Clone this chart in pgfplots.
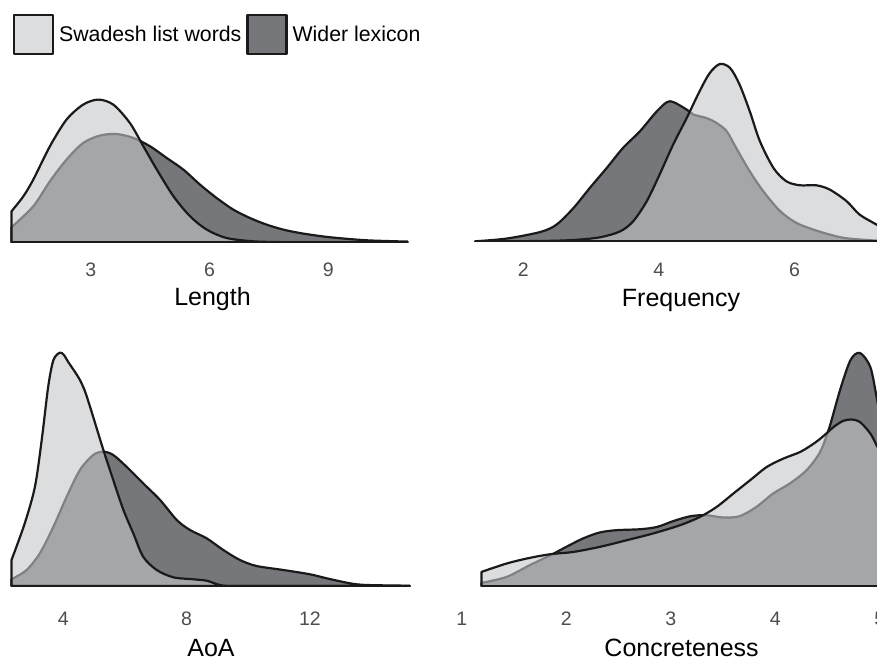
\documentclass[border=0pt]{standalone}
\usepackage{pgfplots}
\pgfplotsset{compat=1.18}
\usepackage{fontspec}
\setmainfont{Liberation Sans}
\definecolor{wd}{RGB}{118,119,123}
\definecolor{sw}{RGB}{197,198,201}
\definecolor{tickgray}{RGB}{77,77,77}
\definecolor{outl}{RGB}{26,26,26}
\pgfplotsset{
  swst/.style={fill=sw, fill opacity=0.6, draw=outl, line width=2.2pt, line join=round},
  wdst/.style={fill=wd, draw=outl, line width=2.2pt, line join=round},
  dens/.style={
    scale only axis, anchor=south west, y=1pt, ymin=0,
    axis line style={draw=none}, ytick=\empty, major tick length=0pt,
    tick style={draw=none},
    /pgf/number format/assume math mode=true,
    tick label style={font=\fontsize{19.5}{21}\selectfont, text=tickgray},
    label style={font=\fontsize{25}{28}\selectfont, text=black},
    legend image code/.code={\draw[##1] (0pt,-19.5pt) rectangle (39pt,19.5pt);},
  },
}
\begin{document}
\begin{tikzpicture}
\useasboundingbox (0,0) rectangle (877pt,659pt);
\clip (0,0) rectangle (877pt,659pt);

% Length
\begin{axis}[dens, at={(1.6pt,416.7pt)}, xmin=0.75, xmax=11.5, x=39.6pt, ymax=240,
  xtick={3,6,9}, xticklabel style={anchor=base, yshift=-34.7pt},
  xlabel={Length}, xlabel style={at={(axis description cs:0.4954,0)}, anchor=base, yshift=-63.7pt},
  legend columns=2,
  legend style={at={(axis description cs:0.0261,0.954)}, anchor=north west, draw=none, fill=none,
    inner sep=0pt, font=\fontsize{21.3}{24}\selectfont,
    /tikz/every odd column/.append style={column sep=3pt},
    /tikz/every even column/.append style={column sep=3pt}}]
\addlegendimage{swst}\addlegendentry{Swadesh list words}
\addlegendimage{wdst}\addlegendentry{Wider lexicon}
\addplot[wdst, smooth, forget plot] coordinates {
(1.0,15) (1.55,36) (1.97,61) (2.39,82.7) (2.81,99.3) (3.23,106.7) (3.65,108.3) (4.08,104.3)
(4.50,96) (4.92,84.3) (5.34,72.7) (5.76,57.7) (6.18,44.3) (6.60,32.7) (7.02,24.3) (7.44,17.7)
(7.86,12.7) (8.28,9.3) (8.71,6.7) (9.13,4.7) (9.97,2) (11.0,0.7)} \closedcycle;
\addplot[swst, smooth, forget plot] coordinates {
(1.0,31) (1.3,46) (1.55,62.7) (1.97,96) (2.39,122.7) (2.81,137.7) (3.19,142.7) (3.57,137.7) (3.99,119.3)
(4.33,96) (4.67,72.7) (5.09,46) (5.51,26) (5.93,12.7) (6.43,4.3) (7.1,1) (7.8,0.2) (9.0,0) (11.0,0)} \closedcycle;
\end{axis}

% Frequency
\begin{axis}[dens, at={(469.06pt,417.7pt)}, xmin=1.2, xmax=7.5, x=67.8pt, ymax=200,
  xtick={2,4,6}, xticklabel style={anchor=base, yshift=-35.4pt},
  xlabel={Frequency}, xlabel style={at={(axis description cs:0.4962,0)}, anchor=base, yshift=-65pt}]
\addplot[wdst, smooth, forget plot] coordinates {
(1.29,0) (1.75,2.7) (2.25,9.3) (2.49,16.7) (2.74,33.3) (2.98,53.3) (3.23,73.3) (3.47,93.3)
(3.72,110) (3.97,130) (4.16,140) (4.41,131.7) (4.51,126.7) (4.70,123.3) (4.85,118.3) (5.0,110)
(5.14,93.3) (5.34,70) (5.54,50) (5.79,30) (6.03,18.3) (6.28,11.7) (6.52,6.7) (6.77,3) (7.21,0.7) (7.45,0.2)} \closedcycle;
\addplot[swst, smooth, forget plot] coordinates {
(1.29,0) (2.25,0.3) (2.74,1.3) (3.13,4) (3.43,10) (3.62,20) (3.82,40) (4.01,66.7) (4.21,96.7)
(4.41,123.3) (4.60,150) (4.75,168.3) (4.90,177.3) (5.05,173.3) (5.19,156.7) (5.34,130) (5.49,100)
(5.69,73.3) (5.88,60) (6.08,56) (6.32,56) (6.52,51.7) (6.77,40) (6.96,26.7) (7.21,16.7) (7.45,7)} \closedcycle;
\end{axis}

% AoA
\begin{axis}[dens, at={(1.64pt,73pt)}, xmin=2, xmax=16, x=30.83pt, ymax=240,
  xtick={4,8,12}, xticklabel style={anchor=base, yshift=-39.7pt},
  xlabel={AoA}, xlabel style={at={(axis description cs:0.485,0)}, anchor=base, yshift=-70.5pt}]
\addplot[wdst, smooth, forget plot] coordinates {
(2.32,6.7) (2.81,16) (3.24,32.7) (3.68,59.3) (4.11,89.3) (4.54,116) (4.97,131) (5.30,134.3)
(5.62,131) (6.05,119.3) (6.59,102.7) (7.14,86) (7.68,66) (8.11,56) (8.65,47.7) (9.19,36)
(9.73,26) (10.27,20) (11.14,16) (12.0,11.7) (12.54,7.7) (13.30,2.7) (13.84,1) (15.24,0.3)} \closedcycle;
\addplot[swst, smooth, forget plot] coordinates {
(2.32,26) (2.75,62.7) (3.08,99.3) (3.30,146) (3.51,199.3) (3.68,226) (3.89,233.3) (4.02,231)
(4.16,224) (4.38,214) (4.54,206) (4.70,195) (4.86,180) (5.08,158) (5.30,136) (5.62,106) (5.95,76)
(6.27,52.7) (6.59,29.3) (7.03,16) (7.57,8.7) (8.22,6.7) (8.65,5.3) (9.08,1) (9.51,0) (12,0) (15.24,0)} \closedcycle;
\end{axis}

% Concreteness
\begin{axis}[dens, at={(451.25pt,72.8pt)}, xmin=0.9, xmax=5.3, x=104.5pt, ymax=240,
  xtick={1,2,3,4,5}, xticklabel style={anchor=base, yshift=-39.7pt},
  xlabel={Concreteness}, xlabel style={at={(axis description cs:0.501,0)}, anchor=base, yshift=-70.5pt}]
\addplot[wdst, smooth, forget plot] coordinates {
(1.19,3.3) (1.43,9.3) (1.65,21) (1.85,31) (2.00,39.3) (2.16,47.7) (2.32,53.7) (2.48,56) (2.71,57)
(2.87,59.3) (3.03,65.3) (3.19,70) (3.34,71) (3.50,68.7) (3.66,70) (3.82,79.3) (3.98,92.7)
(4.14,102.7) (4.30,116) (4.43,134.3) (4.52,159.3) (4.62,196) (4.72,226) (4.81,233.3) (4.91,219.3)
(4.97,189.3) (5.0,172)} \closedcycle;
\addplot[swst, smooth, forget plot] coordinates {
(1.19,14.3) (1.43,22.7) (1.65,28.3) (1.85,32) (2.07,34.3) (2.32,39.3) (2.58,46) (2.83,52.7)
(3.09,61) (3.28,69.3) (3.44,79.3) (3.60,92.7) (3.76,106) (3.92,119.3) (4.08,127.7) (4.24,134.3)
(4.37,142.7) (4.46,150) (4.56,159.3) (4.65,165.3) (4.73,166.7) (4.81,164.3) (4.91,152.7)
(4.97,141) (5.0,135)} \closedcycle;
\end{axis}
\end{tikzpicture}
\end{document}
